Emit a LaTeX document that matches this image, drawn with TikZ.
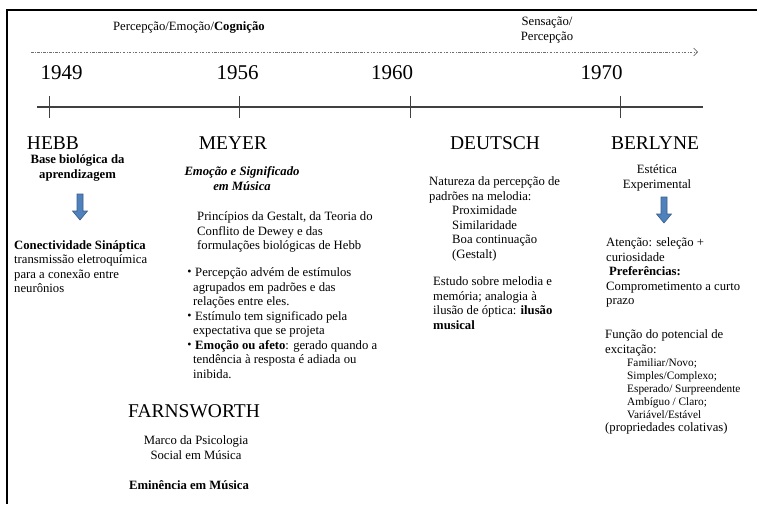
\documentclass[tikz,border=0pt]{standalone}
\usepackage{fontspec}
\setmainfont{Liberation Serif}
\usepackage{tikz}
\usetikzlibrary{arrows.meta,positioning}
\definecolor{cArrow}{RGB}{79,129,189}
\definecolor{cArrowLine}{RGB}{56,93,138}
\definecolor{cAxis}{RGB}{64,64,64}
\definecolor{cTrend}{RGB}{110,110,110}
\tikzset{
  txt/.style={inner sep=0pt, align=left, font=\fontsize{12.7}{14.5}\selectfont},
  txtc/.style={txt, align=center},
  txtb/.style={txt, font=\fontsize{12.7}{14.5}\selectfont\bfseries},
  txtbc/.style={txtb, align=center},
  txtbi/.style={txt, align=center, font=\fontsize{12.7}{14.5}\selectfont\bfseries\itshape},
  txts/.style={inner sep=0pt, align=left, font=\fontsize{11.3}{13}\selectfont},
  who/.style={inner sep=0pt, font=\fontsize{19.5}{22}\selectfont},
  yr/.style={inner sep=0pt, font=\fontsize{21}{24}\selectfont},
  bul/.style={inner sep=0pt, font=\fontsize{12}{12}\selectfont},
  trend/.style={draw=cTrend, line width=0.6pt,
                dash pattern=on 2.5pt off 1.5pt on 0.6pt off 1.5pt,
                -{Straight Barb[length=4pt,width=8pt]}},
  axis/.style={draw=cAxis, line width=1.1pt},
  tick/.style={draw=cAxis, line width=0.9pt},
  pics/blockdown/.style={code={
    \draw[fill=cArrow, draw=cArrowLine, line width=0.6pt]
      (-3,-13) -- (3,-13) -- (3,4) -- (7.5,4) -- (0,13)
      -- (-7.5,4) -- (-3,4) -- cycle;}},
}

\begin{document}
\begin{tikzpicture}[x=1pt, y=-1pt]
  \useasboundingbox (0,0) rectangle (757,504);
  % moldura
  \draw[line width=2pt] (7,504) -- (7,9.5) -- (757,9.5);

  % tendencias
  \node[txt, anchor=base] (pec) at (189,30) {Percepção/Emoção/\textbf{Cognição}};
  \node[txtc, anchor=north] (senper) at (547,17) {Sensação/\\Percepção};
  \coordinate (trendL) at (31,52);
  \coordinate (trendR) at (698,52);
  \draw[trend] (trendL) -- (trendR);

  % linha do tempo
  \coordinate (tlL) at (37,107);
  \coordinate (tlR) at (703,107);
  \draw[axis] (tlL) -- (tlR);
  \foreach \t/\x/\yr in {49/61.5/1949, 239/237.5/1956, 410/392/1960, 620/601.5/1970} {
    \draw[tick] (\t,96) -- (\t,118);
    \node[yr] (y\yr) at (\x,73) {\yr};
  }

  % HEBB
  \node[who] (hebb) at (53,143) {HEBB};
  \node[txtbc, anchor=north] (hebbbase) at (77.5,154.5) {Base biológica da\\aprendizagem};
  \pic (hebbarr) at (80,207) {blockdown};
  \node[txt, anchor=north west] (hebbsin) at (14,240) {\textbf{Conectividade Sináptica}\\transmissão eletroquímica\\para a conexão entre\\neurônios};

  % MEYER
  \node[who] (meyer) at (233,143) {MEYER};
  \node[txtbi, anchor=north] (meyeremo) at (242,166.5) {Emoção e Significado\\em Música};
  \node[txt, anchor=north west] (meyerprin) at (197,211.5) {Princípios da Gestalt, da Teoria do\\Conflito de Dewey e das\\formulações biológicas de Hebb};
  \node[txt, anchor=north west] (meyer1) at (193,267.5) {\hspace*{2pt}Percepção advém de estímulos\\agrupados em padrões e das\\relações entre eles.};
  \node[txt, anchor=north west] (meyer2) at (193,311) {\hspace*{2pt}Estímulo tem significado pela\\expectativa que se projeta};
  \node[txt, anchor=north west] (meyer3) at (193,340) {\hspace*{2pt}\textbf{Emoção ou afeto}: gerado quando a\\tendência à resposta é adiada ou\\inibida.};
  \foreach \yy [count=\i] in {273,316.5,345.5}
    \node[bul] (mbul\i) at (189.5,\yy) {\textbullet};

  % FARNSWORTH
  \node[who] (farns) at (194,411) {FARNSWORTH};
  \node[txtc, anchor=north] (farnsmarco) at (196,435.5) {Marco da Psicologia\\Social em Música};
  \node[txtb, anchor=base] (farnsemi) at (189,489) {Eminência em Música};

  % DEUTSCH
  \node[who] (deutsch) at (495,143) {DEUTSCH};
  \node[txt, anchor=north west] (deutschnat) at (429,176.5) {Natureza da percepção de\\padrões na melodia:\\\hspace*{23pt}Proximidade\\\hspace*{23pt}Similaridade\\\hspace*{23pt}Boa continuação\\\hspace*{23pt}(Gestalt)};
  \node[txt, anchor=north west] (deutschest) at (433,276.5) {Estudo sobre melodia e\\memória; analogia à\\ilusão de óptica: \textbf{ilusão}\\\textbf{musical}};

  % BERLYNE
  \node[who] (berlyne) at (655,143) {BERLYNE};
  \node[txtc, anchor=north] (berest) at (657,164.5) {Estética\\Experimental};
  \pic (berarr) at (664,210) {blockdown};
  \node[txt, anchor=north west] (berate) at (606,237.5) {Atenção: seleção +\\curiosidade\\\hspace*{3pt}\textbf{Preferências:}\\Comprometimento a curto\\prazo};
  \node[txt, anchor=north west] (berfun) at (605,329.5) {Função do potencial de\\excitação:};
  \node[txts, anchor=north west] (berlist) at (627,358) {Familiar/Novo;\\Simples/Complexo;\\Esperado/ Surpreendente\\Ambíguo / Claro;\\Variável/Estável};
  \node[txt, anchor=base west] (bercol) at (605,431) {(propriedades colativas)};
\end{tikzpicture}
\end{document}
